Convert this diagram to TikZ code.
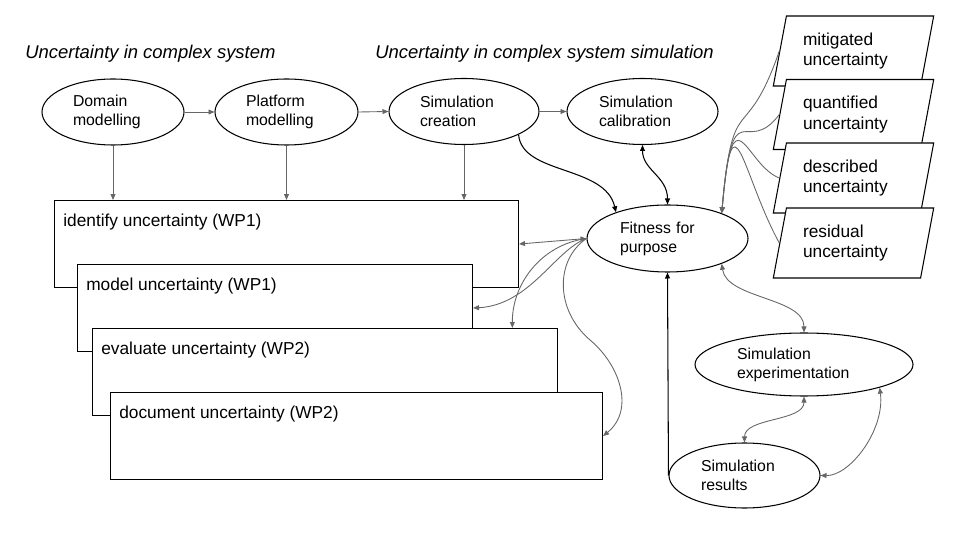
\documentclass[tikz,border=0pt]{standalone}
\usepackage{fontspec}
\setmainfont{Liberation Sans}
\usepackage{tikz}
\usetikzlibrary{arrows.meta,shapes.geometric}
\newlength{\pxu}
\setlength{\pxu}{0.02cm}
\definecolor{linkgrey}{HTML}{666666}
\tikzset{
	bubble/.style n args={3}{ellipse,draw,line width=0.6pt,fill=white,inner sep=0pt,align=left,font=\fontsize{9}{10.8}\selectfont,minimum width=#1\pxu,minimum height=#2\pxu,text width=#3\pxu},
	wpbox/.style 2 args={draw,line width=0.6pt,fill=white,anchor=north west,inner sep=0pt,minimum width=#1\pxu,minimum height=87\pxu,label={[boxtext]north west:#2}},
	boxtext/.style={anchor=west,inner sep=0pt,xshift=5.1pt,yshift=-12.5pt,font=\fontsize{9.85}{11.8}\selectfont},
	para/.style={trapezium,trapezium left angle=75,trapezium right angle=105,trapezium stretches=true,draw,line width=0.6pt,fill=white,inner sep=0pt,minimum width=161\pxu,minimum height=70\pxu,text width=101\pxu,align=left,font=\fontsize{9.85}{11.8}\selectfont},
	heading/.style={anchor=west,inner sep=0pt,font=\fontsize{10.5}{12.6}\selectfont\itshape},
	link/.style={linkgrey,line width=0.5pt},
	flow/.style={black,line width=0.6pt}
}
\begin{document}
\begin{tikzpicture}[x=0.02cm,y=-0.02cm,>={Triangle[length=3.4pt,width=2.8pt]}]
	\useasboundingbox (0,0) rectangle (960,540);
	\node [heading] (sys) at (25,54) {Uncertainty in complex system};
	\node [heading] (sim) at (375,54) {Uncertainty in complex system simulation};

	\node [bubble={142}{66}{80}] (dom) at (113,112) {Domain\\modelling};
	\node [bubble={143}{66}{81}] (plat) at (286.5,112) {Platform\\modelling};
	\node [bubble={150}{66}{88}] (crea) at (464,111.5) {Simulation\\creation};
	\node [bubble={151}{66}{87}] (cal) at (642.5,111.5) {Simulation\\calibration};
	\node [bubble={161}{67}{95}] (fit) at (667.5,238.5) {Fitness for\\purpose};
	\node [bubble={218}{63}{134}] (exp) at (804,364.5) {Simulation\\experimentation};
	\node [bubble={151}{65}{87}] (res) at (744.5,475.5) {Simulation\\results};

	\node [wpbox={464}{identify uncertainty (WP1)}] (b1) at (54,200) {};
	\node [wpbox={395}{model uncertainty (WP1)}] (b2) at (77,264) {};
	\node [wpbox={465}{evaluate uncertainty (WP2)}] (b3) at (92,328) {};
	\node [wpbox={492}{document uncertainty (WP2)}] (b4) at (110,392) {};

	\node [para] (mit) at (853.5,51) {mitigated\\uncertainty};
	\node [para] (qua) at (853.5,114.5) {quantified\\uncertainty};
	\node [para] (des) at (853.5,178) {described\\uncertainty};
	\node [para] (resid) at (853.5,243) {residual\\uncertainty};

	\draw [link,->] (dom.east) -- (plat.west);
	\draw [link,->] (plat.east) -- (crea.west);
	\draw [link,->] (crea.east) -- (cal.west);
	\draw [link,->] (dom.south) -- (dom.south |- b1.north);
	\draw [link,->] (plat.south) -- (plat.south |- b1.north);
	\draw [link,->] (crea.south) -- (crea.south |- b1.north);

	\draw [flow,->] (crea.-23) .. controls (522,175) and (605,165) .. (fit.153);
	\draw [flow,<->] (cal.south) .. controls +(0,25) and +(0,-28) .. (fit.north);
	\draw [flow,->] (res.west) -- (fit.south);

	\draw [link,<->] (b1.east) -- (fit.west);
	\draw [link,->] (fit.west) .. controls (555,250) and (530,305) .. (b2.east);
	\draw [link,->] (fit.west) .. controls (540,245) and (512,285) .. ([xshift=-26pt]b3.north east);
	\draw [link,->] (fit.west) .. controls (555,260) and (555,310) .. (590,340) .. controls (620,365) and (635,410) .. (b4.east);

	\draw [link,->] (mit.left side) .. controls (745,150) and (733,85) .. (fit.25);
	\draw [link,->] (qua.left side) .. controls (745,160) and (733,85) .. (fit.25);
	\draw [link,->] (des.left side) .. controls (745,165) and (733,85) .. (fit.25);
	\draw [link,->] (resid.left side) .. controls (742,175) and (733,85) .. (fit.25);

	\draw [link,<->] (fit.-25) .. controls +(5,35) and +(0,-35) .. (exp.north);
	\draw [link,<->] (exp.south) .. controls +(0,25) and +(0,-25) .. (res.north);
	\draw [link,<->] (exp.-17) .. controls (885,430) and (850,476) .. (res.east);
\end{tikzpicture}
\end{document}
